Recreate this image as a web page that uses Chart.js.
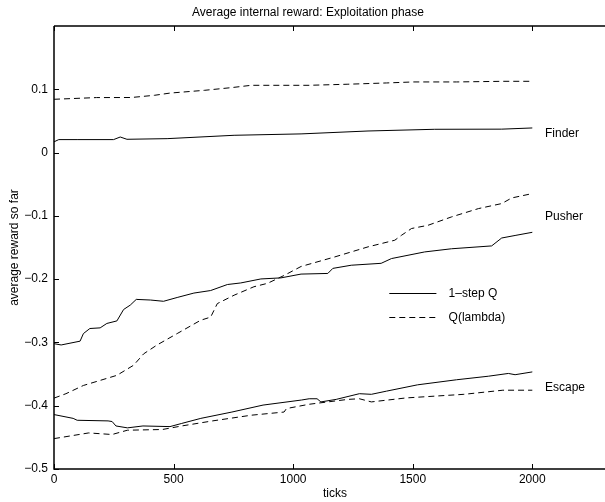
<!DOCTYPE html>
<html>
<head>
<meta charset="utf-8">
<script src="https://cdn.jsdelivr.net/npm/chart.js@4/dist/chart.umd.min.js"></script>
<style>
  html, body { margin: 0; padding: 0; background: #fff; overflow: hidden; }
  #wrap { width: 640px; height: 502px; }
</style>
</head>
<body>
<div id="wrap"><canvas id="chart" width="640" height="502"></canvas></div>
<script>
// tick labels
const xTicks = [0, 500, 1000, 1500, 2000];
const yTicks = [-0.5, -0.4, -0.3, -0.2, -0.1, 0, 0.1];
const yTickLabels = ["\u22120.5", "\u22120.4", "\u22120.3", "\u22120.2", "\u22120.1", "0", "0.1"];

// Finder
const finderQ1X = [0, 20, 100, 249, 277, 305, 473, 753, 1033, 1313, 1592, 1872, 2000];
const finderQ1Y = [0.017, 0.0205, 0.0205, 0.0205, 0.0246, 0.021, 0.022, 0.0273, 0.0295, 0.0341, 0.0368, 0.037, 0.0389];
const finderQLX = [0, 178, 323, 420, 485, 630, 744, 825, 1067, 1229, 1390, 1503, 1683, 1877, 2000];
const finderQLY = [0.0842, 0.0869, 0.087, 0.0905, 0.094, 0.0984, 0.1027, 0.1063, 0.1063, 0.108, 0.110, 0.1116, 0.1116, 0.1126, 0.1126];

// Pusher
const pusherQ1X = [0, 30, 109, 123, 150, 193, 221, 263, 291, 319, 344, 403, 458, 515, 585, 655, 725, 781, 865, 949, 1033, 1145, 1166, 1243, 1368, 1411, 1550, 1662, 1830, 1872, 1928, 2000];
const pusherQ1Y = [-0.302, -0.304, -0.298, -0.286, -0.278, -0.277, -0.270, -0.266, -0.248, -0.241, -0.232, -0.233, -0.235, -0.229, -0.222, -0.218, -0.2085, -0.206, -0.1997, -0.198, -0.192, -0.191, -0.183, -0.178, -0.175, -0.1675, -0.157, -0.152, -0.1475, -0.135, -0.131, -0.126];
const pusherQLX = [0, 50, 123, 193, 263, 333, 375, 431, 515, 613, 655, 683, 753, 836, 893, 963, 1033, 1173, 1313, 1425, 1453, 1495, 1564, 1662, 1775, 1872, 1914, 2000];
const pusherQLY = [-0.388, -0.381, -0.368, -0.360, -0.352, -0.336, -0.318, -0.304, -0.286, -0.265, -0.260, -0.2386, -0.2254, -0.212, -0.2066, -0.194, -0.180, -0.165, -0.149, -0.1385, -0.1307, -0.120, -0.1149, -0.1017, -0.0885, -0.0806, -0.0717, -0.0648];

// Escape
const escapeQ1X = [0, 80, 97, 226, 243, 259, 307, 372, 485, 534, 614, 744, 874, 1035, 1067, 1100, 1116, 1180, 1277, 1327, 1390, 1520, 1683, 1816, 1900, 1928, 2000];
const escapeQ1Y = [-0.414, -0.420, -0.423, -0.424, -0.425, -0.432, -0.435, -0.432, -0.433, -0.428, -0.420, -0.410, -0.399, -0.391, -0.389, -0.389, -0.394, -0.390, -0.381, -0.382, -0.377, -0.367, -0.359, -0.3534, -0.349, -0.351, -0.3466];
const escapeQLX = [0, 145, 243, 307, 453, 534, 663, 825, 962, 972, 1067, 1229, 1277, 1327, 1472, 1714, 1877, 2000];
const escapeQLY = [-0.452, -0.443, -0.4455, -0.4387, -0.4376, -0.432, -0.424, -0.415, -0.410, -0.4045, -0.3977, -0.390, -0.389, -0.394, -0.3877, -0.382, -0.3755, -0.3755];

// text labels placed in data units
const groupNames = ["Finder", "Pusher", "Escape"];
const groupLabelX = 2053;
const groupLabelY = [0.0305, -0.1006, -0.371];

const FONT = '"Liberation Sans", Arial, Helvetica, sans-serif';
const FS = 12;
const DASH = [6, 4];

const toPoints = (xs, ys) => xs.map((x, i) => ({ x: x, y: ys[i] }));

const line = (label, xs, ys, dashed) => ({
  label: label,
  data: toPoints(xs, ys),
  borderColor: "#000",
  borderWidth: 1,
  borderDash: dashed ? DASH : [],
  pointRadius: 0,
  tension: 0,
  fill: false
});

// MATLAB-like box, inward ticks, labels and legend
const decor = {
  id: "decor",
  afterDraw(chart) {
    const ctx = chart.ctx;
    const a = chart.chartArea;
    const xs = chart.scales.x;
    const ys = chart.scales.y;
    const tl = 5;
    ctx.save();
    ctx.strokeStyle = "#000";
    ctx.lineWidth = 1.5;
    ctx.beginPath();
    ctx.moveTo(a.left, a.top);
    ctx.lineTo(a.right, a.top);
    ctx.moveTo(a.left, a.top);
    ctx.lineTo(a.left, a.bottom);
    ctx.lineTo(a.right, a.bottom);
    ctx.moveTo(a.right, a.top);
    ctx.lineTo(a.right, a.bottom);
    ctx.stroke();

    ctx.lineWidth = 1;
    ctx.beginPath();
    xTicks.forEach(v => {
      const px = Math.round(xs.getPixelForValue(v)) + 0.5;
      ctx.moveTo(px, a.bottom);
      ctx.lineTo(px, a.bottom - tl);
      ctx.moveTo(px, a.top);
      ctx.lineTo(px, a.top + tl);
    });
    yTicks.forEach(v => {
      const py = Math.round(ys.getPixelForValue(v)) + 0.5;
      ctx.moveTo(a.left, py);
      ctx.lineTo(a.left + tl, py);
      ctx.moveTo(a.right, py);
      ctx.lineTo(a.right - tl, py);
    });
    ctx.stroke();

    ctx.fillStyle = "#000";
    ctx.font = FS + "px " + FONT;
    ctx.textBaseline = "middle";
    ctx.textAlign = "left";
    groupNames.forEach((name, i) => {
      ctx.fillText(name, xs.getPixelForValue(groupLabelX), ys.getPixelForValue(groupLabelY[i]));
    });

    // legend
    const lx0 = xs.getPixelForValue(1402);
    const lx1 = xs.getPixelForValue(1599);
    const tx = xs.getPixelForValue(1650);
    const ly = [ys.getPixelForValue(-0.222), ys.getPixelForValue(-0.260)];
    chart.data.datasets.slice(0, 2).forEach((ds, i) => {
      const y = Math.round(ly[i]) + 0.5;
      ctx.setLineDash(ds.borderDash);
      ctx.beginPath();
      ctx.moveTo(lx0, y);
      ctx.lineTo(lx1, y);
      ctx.stroke();
      ctx.setLineDash([]);
      ctx.fillText(ds.label, tx, y);
    });
    ctx.restore();
  }
};

new Chart(document.getElementById("chart"), {
  type: "line",
  data: {
    datasets: [
      line("1\u2013step Q", finderQ1X, finderQ1Y, false),
      line("Q(lambda)", finderQLX, finderQLY, true),
      line("1\u2013step Q", pusherQ1X, pusherQ1Y, false),
      line("Q(lambda)", pusherQLX, pusherQLY, true),
      line("1\u2013step Q", escapeQ1X, escapeQ1Y, false),
      line("Q(lambda)", escapeQLX, escapeQLY, true)
    ]
  },
  options: {
    responsive: false,
    maintainAspectRatio: false,
    animation: false,
    layout: { padding: { left: 0, right: 24, top: 0, bottom: 0 } },
    plugins: {
      legend: { display: false },
      tooltip: { enabled: false },
      title: {
        display: true,
        text: "Average internal reward: Exploitation phase",
        color: "#000",
        font: { family: FONT, size: FS, weight: "normal" },
        padding: { top: 5, bottom: 6.6 }
      }
    },
    scales: {
      x: {
        type: "linear",
        min: 0,
        max: 2350,
        grid: { display: false, drawTicks: false },
        border: { display: false },
        afterBuildTicks: s => { s.ticks = xTicks.map(v => ({ value: v })); },
        afterFit: s => { s.height = 33; },
        ticks: {
          color: "#000",
          padding: 3,
          maxRotation: 0,
          font: { family: FONT, size: FS },
          callback: v => String(v)
        },
        title: {
          display: true,
          text: "ticks",
          color: "#000",
          font: { family: FONT, size: FS },
          padding: { top: 0, bottom: 0.8 }
        }
      },
      y: {
        type: "linear",
        min: -0.5,
        max: 0.2,
        grid: { display: false, drawTicks: false },
        border: { display: false },
        afterBuildTicks: s => { s.ticks = yTicks.map(v => ({ value: v })); },
        afterFit: s => { s.width = 54; },
        ticks: {
          color: "#000",
          padding: 6,
          font: { family: FONT, size: FS },
          callback: v => {
            const i = yTicks.findIndex(t => Math.abs(t - v) < 1e-9);
            return i >= 0 ? yTickLabels[i] : "";
          }
        },
        title: {
          display: true,
          text: "average reward so far",
          color: "#000",
          font: { family: FONT, size: FS },
          padding: { top: 7.8, bottom: 0 }
        }
      }
    }
  },
  plugins: [decor]
});
</script>
</body>
</html>
